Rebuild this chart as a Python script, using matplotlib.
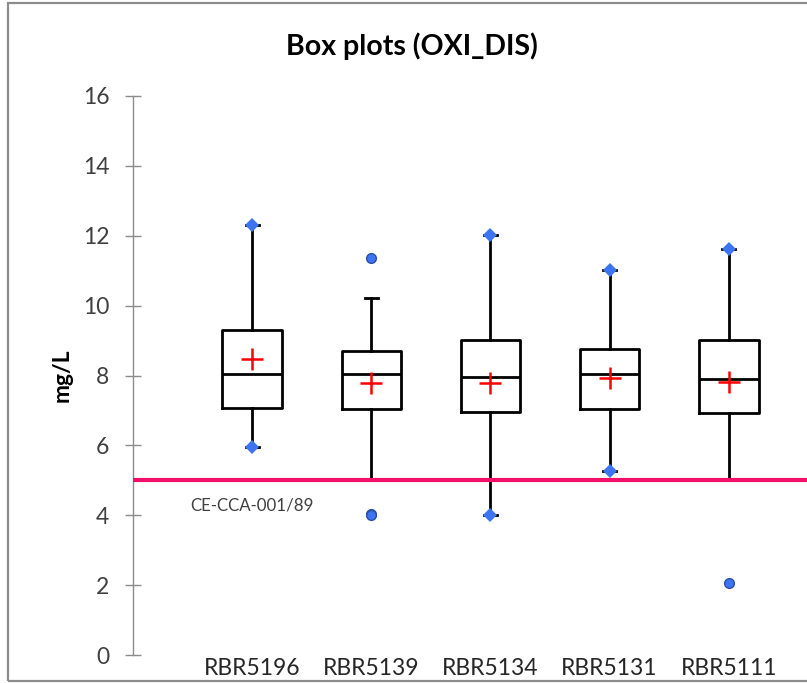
import matplotlib
matplotlib.use("Agg")
import matplotlib.pyplot as plt
from matplotlib.patches import Rectangle

# values (mg/L)
stations = ['RBR5196', 'RBR5139', 'RBR5134', 'RBR5131', 'RBR5111']
q1 = [7.06, 7.03, 6.96, 7.03, 6.92]
med = [8.03, 8.03, 7.96, 8.03, 7.89]
q3 = [9.30, 8.71, 9.02, 8.76, 9.02]
whis_lo = [5.94, 5.00, 4.02, 5.27, 5.00]
whis_hi = [12.31, 10.22, 12.02, 11.02, 11.61]
means = [8.46, 7.78, 7.79, 7.92, 7.82]
outliers = [[], [11.35, 4.05, 4.0], [], [], [2.05]]
# min / max shown as diamonds at the whisker ends
minimum = [5.94, None, 4.02, 5.27, None]
maximum = [12.31, None, 12.02, 11.02, 11.61]
limit = 5.0
limit_label = 'CE-CCA-001/89'

plt.rcParams['font.family'] = ['Lato', 'DejaVu Sans']

fig = plt.figure(figsize=(8.07, 6.83), dpi=100)
ax = fig.add_axes([133 / 807, 1 - 655 / 683, (807 - 133) / 807, (655 - 96) / 683])

pos = list(range(1, len(stations) + 1))
stats = []
for i in range(len(stations)):
    stats.append(dict(med=med[i], q1=q1[i], q3=q3[i], whislo=whis_lo[i],
                      whishi=whis_hi[i], mean=means[i], fliers=[]))

blue = '#3d74f2'
ax.axhline(limit, color='#f0106a', lw=3, zorder=5)

ax.bxp(stats, positions=pos, widths=0.5, showmeans=True, showfliers=False,
       boxprops=dict(color='black', lw=2),
       medianprops=dict(color='black', lw=2),
       whiskerprops=dict(color='black', lw=2),
       capprops=dict(color='black', lw=2),
       capwidths=0.11,
       meanprops=dict(marker='+', markeredgecolor='red', markersize=16, markeredgewidth=1.8),
       manage_ticks=False, zorder=2)

for i, p in enumerate(pos):
    for v in outliers[i]:
        ax.plot(p, v, 'o', color=blue, markeredgecolor='#2a4fa8', markersize=7, zorder=6)
    if minimum[i] is not None:
        ax.plot(p, minimum[i], 'D', color=blue, markersize=7, mew=0, zorder=6)
    if maximum[i] is not None:
        ax.plot(p, maximum[i], 'D', color=blue, markersize=7, mew=0, zorder=6)

ax.text(0.48, 4.29, limit_label, fontsize=12.2, color='#404040', va='center', ha='left')

ax.set_xlim(0, (807 - 133) / 119.15)
ax.set_ylim(0, 16)
ax.set_yticks(range(0, 17, 2))
ax.set_xticks(pos)
ax.set_xticklabels(stations)
ax.tick_params(axis='x', length=0, pad=2, labelsize=16.5, labelcolor='#262626')
ax.tick_params(axis='y', direction='inout', length=12, width=1, color='#8c8c8c',
               pad=11, labelsize=16.5, labelcolor='#404040')
for s in ['top', 'right', 'bottom']:
    ax.spines[s].set_visible(False)
ax.spines['left'].set_color('#8c8c8c')
ax.spines['left'].set_linewidth(1)

fig.text(62 / 807, 1 - 375 / 683, 'mg/L', rotation=90, fontsize=16.5, fontweight='bold',
         ha='center', va='center', color='black')
fig.text(412 / 807, 1 - 46 / 683, 'Box plots (OXI_DIS)', fontsize=20.5, fontweight='bold',
         ha='center', va='center', color='black')

# outer chart frame (right side runs off the picture)
fig.patches.append(Rectangle((7.5 / 807, 2 / 683), 1.1, 1 - 5 / 683, transform=fig.transFigure,
                             fill=False, edgecolor='#8c8c8c', lw=1.6, zorder=10))

fig.savefig('out.png', dpi=100)
